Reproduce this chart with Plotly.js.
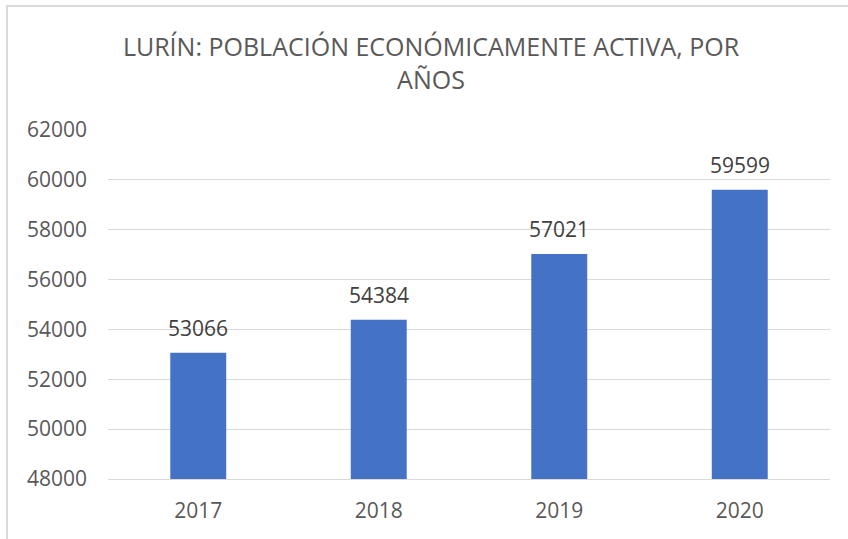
<!DOCTYPE html>
<html>
<head>
<meta charset="utf-8">
<script src="https://cdn.plot.ly/plotly-3.0.1.min.js"></script>
<style>html,body{margin:0;padding:0;background:#fff;}#chart{width:848px;height:539px;}</style>
</head>
<body>
<div id="chart"></div>
<script>
const years = [2017, 2018, 2019, 2020];
const yearLabels = ['2017', '2018', '2019', '2020'];
const pea = [53066, 54384, 57021, 59599];
const yTicks = [48000, 50000, 52000, 54000, 56000, 58000, 60000, 62000];

const W = 848, H = 539;
const L = 108, R = 18, T = 130, B = 60;
const pw = W - L - R, ph = H - T - B;
const px = v => (v - L) / pw;
const py = v => (H - B - v) / ph;

const font = 'Open Sans, sans-serif';
const grey = '#595959';

const trace = {
  type: 'bar',
  x: years,
  y: pea,
  width: 0.31,
  marker: {color: '#4472C4'},
  hoverinfo: 'x+y'
};

const annotations = years.map((yr, i) => ({
  x: yr, y: pea[i], xref: 'x', yref: 'y',
  text: String(pea[i]), showarrow: false,
  yanchor: 'bottom', yshift: 9,
  font: {family: font, size: 21, color: '#404040'}
}));

const layout = {
  width: W, height: H,
  margin: {l: L, r: R, t: T, b: B},
  paper_bgcolor: '#fff', plot_bgcolor: '#fff',
  showlegend: false,
  title: {
    text: 'LURÍN: POBLACIÓN ECONÓMICAMENTE ACTIVA, POR<br>AÑOS',
    font: {family: font, size: 25, color: grey},
    x: 431 / W, xref: 'container', xanchor: 'center',
    y: 1 - 56 / H, yref: 'container', yanchor: 'top'
  },
  xaxis: {
    type: 'linear',
    range: [2016.5, 2020.5],
    tickvals: years,
    ticktext: yearLabels,
    tickfont: {family: font, size: 21, color: grey},
    showgrid: false, zeroline: false, ticks: '',
    showline: true, linecolor: '#d9d9d9', linewidth: 1,
    ticklabelstandoff: 13
  },
  yaxis: {
    range: [48000, 62000],
    tickvals: yTicks,
    ticktext: yTicks.map(String),
    tickfont: {family: font, size: 21, color: grey},
    showgrid: true, gridcolor: '#d9d9d9', gridwidth: 1,
    zeroline: false, showline: false, ticks: '',
    ticklabelstandoff: 20
  },
  annotations: annotations,
  shapes: [
    {type: 'line', xref: 'paper', yref: 'paper', x0: px(7), x1: px(7), y0: py(6), y1: py(H), line: {color: '#d9d9d9', width: 2}},
    {type: 'line', xref: 'paper', yref: 'paper', x0: px(6), x1: px(W), y0: py(6), y1: py(6), line: {color: '#d9d9d9', width: 2}}
  ]
};

Plotly.newPlot('chart', [trace], layout, {displayModeBar: false, staticPlot: true});
</script>
</body>
</html>
